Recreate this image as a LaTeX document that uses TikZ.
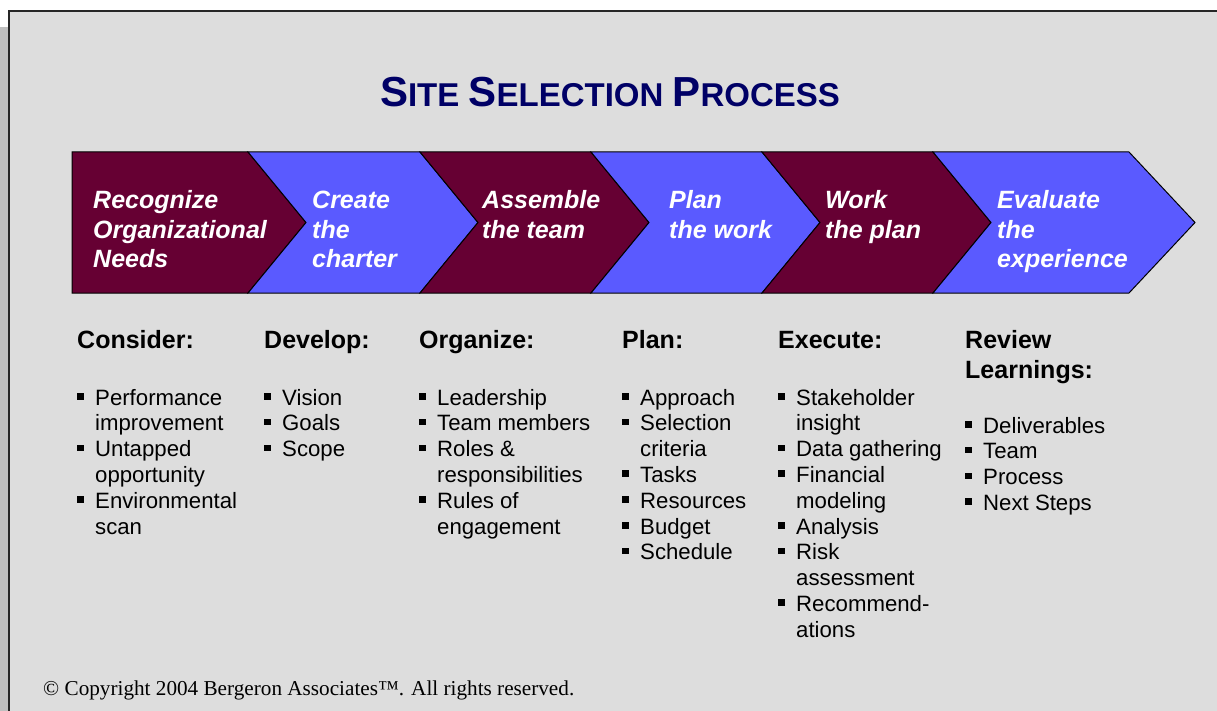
\documentclass[tikz,border=0pt]{standalone}
\usepackage{fontspec}
\setmainfont{Liberation Sans}
\newfontfamily\copyfont{Liberation Serif}
\usetikzlibrary{positioning}

\definecolor{wine}{HTML}{660033}
\definecolor{iris}{HTML}{5A5AFF}
\definecolor{navy}{HTML}{000066}
\definecolor{panel}{HTML}{DDDDDD}

% small square bullet and the two kinds of stacked lines
\newcommand{\sqbul}{\rule[5.5pt]{6.5pt}{6.5pt}}
\newcommand{\linesof}[1]{\begin{tabular}[t]{@{}l@{}}#1\end{tabular}}
\newcommand{\bulletsof}[1]{\begin{tabular}[t]{@{}p{18pt}@{}l@{}}#1\end{tabular}}
\newcommand{\capletter}[1]{{\fontsize{42}{48}\selectfont #1}}

\begin{document}
\begin{tikzpicture}[x=1pt, y=-1pt,
    chev/.style={draw=black, line width=1pt, line join=miter},
    steplabel/.style={anchor=base west, inner sep=0pt, text=white, font=\fontsize{25}{29.5}\selectfont\bfseries\itshape},
    head/.style={anchor=base west, inner sep=0pt, font=\fontsize{25}{30}\selectfont\bfseries},
    items/.style={anchor=base west, inner sep=0pt, font=\fontsize{22.2}{25.8}\selectfont}]

    % slide panel
    \useasboundingbox (0,0) rectangle (1217,711);
    \fill[white] (0,0) rectangle (1217,711);
    \fill[gray!50] (0,27) rectangle (8,711);
    \fill[panel] (9,11) rectangle (1217,711);
    \draw[line width=2pt, black!85] (9,711) -- (9,11) -- (1217,11);

    \node[anchor=base, inner sep=0pt, text=navy, font=\fontsize{33}{40}\selectfont\bfseries] (title) at (610,107)
        {\capletter{S}ITE \capletter{S}ELECTION \capletter{P}ROCESS};

    % chevron band
    \filldraw[fill=wine, chev] (72,152) -- (248,152) -- (306,222.5) -- (248,293) -- (72,293) -- cycle;
    \foreach \a/\b/\c in {248/420/iris, 420/591/wine, 591/762/iris, 762/933/wine}
        \filldraw[fill=\c, chev] (\a,152) -- (\b,152) -- ({\b+58},222.5) -- (\b,293) -- (\a,293) -- ({\a+58},222.5) -- cycle;
    \filldraw[fill=iris, chev] (933,152) -- (1129,152) -- (1195,222.5) -- (1129,293) -- (933,293) -- (991,222.5) -- cycle;

    \node[steplabel] (recognize) at (93,209) {\linesof{Recognize\\Organizational\\Needs}};
    \node[steplabel] (create) at (312,209) {\linesof{Create\\the\\charter}};
    \node[steplabel] (assemble) at (482,209) {\linesof{Assemble\\the team}};
    \node[steplabel] (planwork) at (669,209) {\linesof{Plan\\the work}};
    \node[steplabel] (workplan) at (825,209) {\linesof{Work\\the plan}};
    \node[steplabel] (evaluate) at (997,209) {\linesof{Evaluate\\the\\experience}};

    % column heads
    \node[head] (consider) at (77,348) {Consider:};
    \node[head] (develop) at (264,348) {Develop:};
    \node[head] (organize) at (419,348) {Organize:};
    \node[head] (plan) at (622,348) {Plan:};
    \node[head] (execute) at (778,348) {Execute:};
    \node[head] (review) at (965,348) {\linesof{Review\\Learnings:}};

    % bullet lists
    \node[items, below=57pt of consider.base west, anchor=base west] (considerlist)
        {\bulletsof{\sqbul & Performance\\ & improvement\\ \sqbul & Untapped\\ & opportunity\\ \sqbul & Environmental\\ & scan}};
    \node[items, below=57pt of develop.base west, anchor=base west] (developlist)
        {\bulletsof{\sqbul & Vision\\ \sqbul & Goals\\ \sqbul & Scope}};
    \node[items, below=57pt of organize.base west, anchor=base west] (organizelist)
        {\bulletsof{\sqbul & Leadership\\ \sqbul & Team members\\ \sqbul & Roles \&\\ & responsibilities\\ \sqbul & Rules of\\ & engagement}};
    \node[items, below=57pt of plan.base west, anchor=base west] (planlist)
        {\bulletsof{\sqbul & Approach\\ \sqbul & Selection\\ & criteria\\ \sqbul & Tasks\\ \sqbul & Resources\\ \sqbul & Budget\\ \sqbul & Schedule}};
    \node[items, below=57pt of execute.base west, anchor=base west] (executelist)
        {\bulletsof{\sqbul & Stakeholder\\ & insight\\ \sqbul & Data gathering\\ \sqbul & Financial\\ & modeling\\ \sqbul & Analysis\\ \sqbul & Risk\\ & assessment\\ \sqbul & Recommend-\\ & ations}};
    \node[items, below=85pt of review.base west, anchor=base west] (reviewlist)
        {\bulletsof{\sqbul & Deliverables\\ \sqbul & Team\\ \sqbul & Process\\ \sqbul & Next Steps}};

    \node[anchor=base west, inner sep=0pt, font=\copyfont\fontsize{21.2}{24}\selectfont] (copyright) at (43,695)
        {© Copyright 2004 Bergeron Associates™. All rights reserved.};
\end{tikzpicture}
\end{document}
